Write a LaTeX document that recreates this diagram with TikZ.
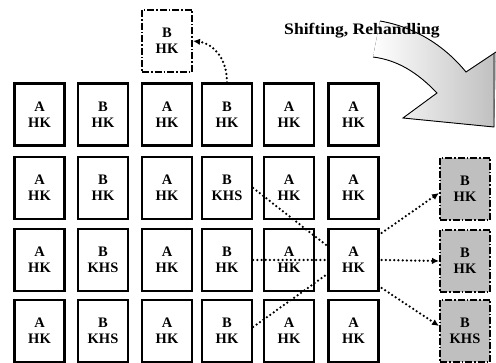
\documentclass[tikz,border=0pt]{standalone}
\usepackage{fontspec}
\setmainfont{Liberation Serif}
\usetikzlibrary{arrows.meta,calc}
\begin{document}
\begin{tikzpicture}[x=1pt,y=-1pt,
  cell/.style={draw=black,line width=2.3pt,fill=white,minimum width=50pt,minimum height=62pt,inner sep=0pt,align=center,
    font=\bfseries\fontsize{14.5}{16}\selectfont},
  dbox/.style={cell,line width=2pt,dash pattern=on 7pt off 2pt on 1.5pt off 2pt},
  gbox/.style={dbox,fill=black!25},
  conn/.style={line width=2.5pt,line cap=round,dash pattern=on 0pt off 4.2pt},
  arr/.style={conn,-{Latex[length=7pt,width=6.5pt]}},
  outl/.style={line width=0.9pt}]
\useasboundingbox (0,0) rectangle (496,363);
% big arrow
\fill[left color=white,right color=black!25,shading angle=90]
  (380,21) .. controls (420,28) and (448,50) .. (466,72) -- (496,52) -- (494,127) -- (403,118) -- (437,93)
  .. controls (417,72) and (397,60) .. (373,57) -- cycle;
\draw[outl] (380,21) .. controls (420,28) and (448,50) .. (466,72) -- (496,52);
\draw[outl] (494,54) -- (494,127) -- (403,118) -- (437,93) .. controls (417,72) and (397,60) .. (373,57);
\node[font=\bfseries\fontsize{16}{18}\selectfont,xscale=1.1,transform shape] (title) at (362,31) {Shifting, Rehandling};
% grid
\node[cell] (c1r1) at (39.5,114.5) {A\\HK};
\node[cell] (c2r1) at (103,114.5) {B\\HK};
\node[cell] (c3r1) at (167,114.5) {A\\HK};
\node[cell] (c4r1) at (227,114.5) {B\\HK};
\node[cell] (c5r1) at (289,114.5) {A\\HK};
\node[cell] (c6r1) at (353.5,114.5) {A\\HK};
\node[cell] (c1r2) at (39.5,188) {A\\HK};
\node[cell] (c2r2) at (103,188) {B\\HK};
\node[cell] (c3r2) at (167,188) {A\\HK};
\node[cell] (c4r2) at (227,188) {B\\KHS};
\node[cell] (c5r2) at (289,188) {A\\HK};
\node[cell] (c6r2) at (353.5,188) {A\\HK};
\node[cell] (c1r3) at (39.5,260) {A\\HK};
\node[cell] (c2r3) at (103,260) {B\\KHS};
\node[cell] (c3r3) at (167,260) {A\\HK};
\node[cell] (c4r3) at (227,260) {B\\HK};
\node[cell] (c5r3) at (289,260) {A\\HK};
\node[cell] (c6r3) at (353.5,260) {A\\HK};
\node[cell] (c1r4) at (39.5,331) {A\\HK};
\node[cell] (c2r4) at (103,331) {B\\KHS};
\node[cell] (c3r4) at (167,331) {A\\HK};
\node[cell] (c4r4) at (227,331) {B\\HK};
\node[cell] (c5r4) at (289,331) {A\\HK};
\node[cell] (c6r4) at (353.5,331) {A\\HK};
% moved boxes
\node[dbox] (top) at (167,41) {B\\HK};
\node[gbox] (g1) at (465,189) {B\\HK};
\node[gbox] (g2) at (465,261) {B\\HK};
\node[gbox] (g3) at (465,331) {B\\KHS};
% connectors
\draw[arr] (c4r1.north) .. controls (227,55) and (210,43) .. (top.east);
\draw[conn] (c4r2.east) -- ($(c6r3.west)+(0,-14)$);
\draw[conn] (c4r3.east) -- (c6r3.west);
\draw[conn] ($(c4r4.east)+(0,-4)$) -- ($(c6r3.west)+(0,14)$);
\draw[arr] ($(c6r3.east)+(2,-27)$) -- ($(g1.west)+(0,4)$);
\draw[arr] ($(c6r3.east)+(2,0)$) -- (g2.west);
\draw[arr] ($(c6r3.east)+(2,28)$) -- ($(g3.west)+(0,-5)$);
\end{tikzpicture}
\end{document}
